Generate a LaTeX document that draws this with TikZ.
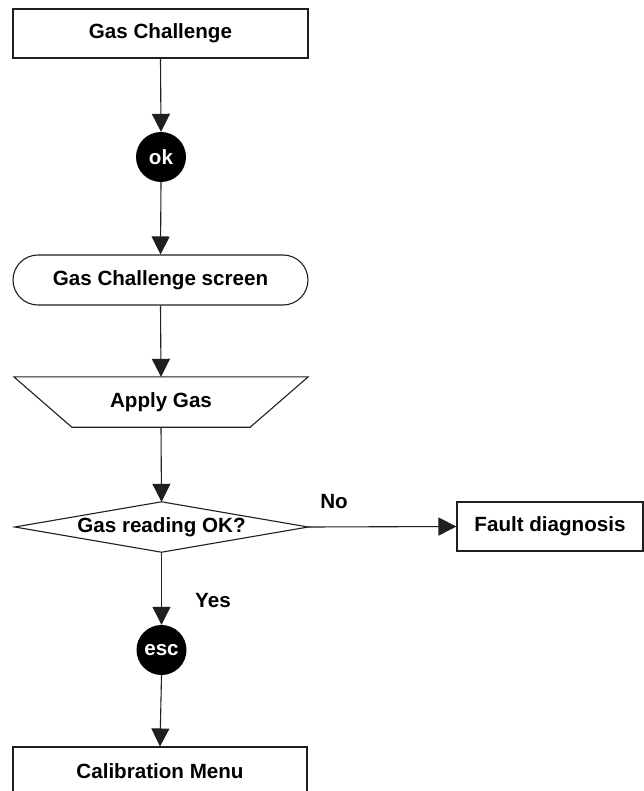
\documentclass[tikz,border=0pt]{standalone}
\usepackage{fontspec}
\setmainfont{Liberation Sans}
\usetikzlibrary{arrows.meta}
\begin{document}
\begin{tikzpicture}[x=1pt,y=-1pt,
  every node/.style={font=\fontsize{20.6}{24}\selectfont\bfseries, inner sep=0pt},
  box/.style={draw=black!88, line width=1.1pt, fill=white, minimum height=49pt},
  round/.style={circle, fill=black, text=white, minimum size=50pt},
  ghost/.style={minimum height=50pt},
  shapeline/.style={draw=black!88, line width=1.1pt},
  flow/.style={draw=black!88, line width=1.1pt, -{Triangle[length=18pt,width=18pt]}}
]
\useasboundingbox (0,0) rectangle (644,791);

\node[box, minimum width=295pt] (gc) at (160.5,33.5) {Gas Challenge};
\node[round] (ok) at (161,157) {ok};
\node[box, minimum width=295pt, minimum height=50pt, rounded corners=25pt] (scr) at (160.5,280) {Gas Challenge screen};
\node[ghost, minimum width=294pt] (ap) at (161,402) {Apply Gas};
\draw[shapeline] (ap.north west) -- (ap.north east) -- ([xshift=-58pt]ap.south east) -- ([xshift=58pt]ap.south west) -- cycle;
\node[ghost, minimum width=293pt] (dia) at (161.5,527) {Gas reading OK?};
\draw[shapeline] (dia.west) -- (dia.north) -- (dia.east) -- (dia.south) -- cycle;
\node[box, minimum width=186pt] (fault) at (550,526.5) {Fault diagnosis};
\node (no) at (334,502) {No};
\node (yes) at (213,601) {Yes};
\node[round] (esc) at (161.5,650) {esc};
\node[box, minimum width=294pt] (cal) at (160,771.5) {Calibration Menu};

\draw[flow] (gc.south) -- (ok.north);
\draw[flow] (ok.south) -- (scr.north);
\draw[flow] (scr.south) -- (ap.north);
\draw[flow] (ap.south) -- (dia.north);
\draw[flow] (dia.east) -- (fault.west);
\draw[flow] (dia.south) -- (esc.north);
\draw[flow] (esc.south) -- (cal.north);
\end{tikzpicture}
\end{document}
